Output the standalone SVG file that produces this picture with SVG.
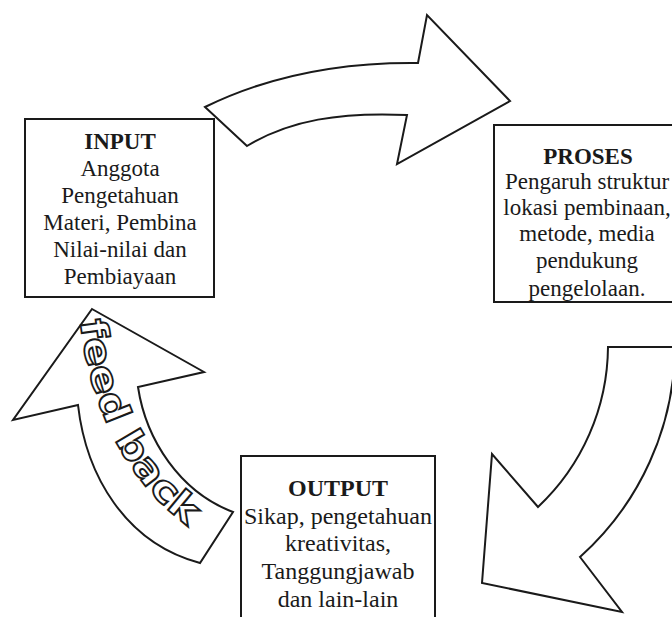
<svg xmlns="http://www.w3.org/2000/svg" xmlns:xlink="http://www.w3.org/1999/xlink" width="672" height="617" viewBox="0 0 672 617">
<style>
.box{fill:#fff;stroke:#1a1a1a;stroke-width:2}
.arrow{fill:#fff;stroke:#1a1a1a;stroke-width:2;stroke-linejoin:miter}
.t{font-family:"Liberation Serif","Times New Roman",serif;font-size:23px;fill:#1a1a1a;text-anchor:middle}
.h{font-weight:bold}
.fb{font-family:"DejaVu Sans","Liberation Sans",sans-serif;font-weight:bold;font-size:37px;fill:#fff;stroke:#1a1a1a;stroke-width:1.8}
</style>
<defs>
<path id="fbpath" d="M80,321 C90,410 130,490 200,534"/>
</defs>
<rect width="672" height="617" fill="#fff"/>
<g id="input">
<rect class="box" x="25" y="119" width="189" height="178"/>
<text class="t h" x="120" y="149">INPUT</text>
<text class="t" x="120" y="176">Anggota</text>
<text class="t" x="120" y="203">Pengetahuan</text>
<text class="t" x="120" y="230">Materi, Pembina</text>
<text class="t" x="120" y="257">Nilai-nilai dan</text>
<text class="t" x="120" y="284">Pembiayaan</text>
</g>
<g id="proses">
<rect class="box" x="494" y="125" width="200" height="177"/>
<text class="t h" x="588" y="164">PROSES</text>
<text class="t" x="587" y="189">Pengaruh struktur</text>
<text class="t" x="587" y="215">lokasi pembinaan,</text>
<text class="t" x="587" y="241">metode, media</text>
<text class="t" x="587" y="268">pendukung</text>
<text class="t" x="587" y="296">pengelolaan.</text>
</g>
<g id="output">
<rect class="box" x="241" y="456" width="194" height="200"/>
<text class="t h" x="338" y="496" style="font-size:24px">OUTPUT</text>
<text class="t" x="338" y="524" style="font-size:24px">Sikap, pengetahuan</text>
<text class="t" x="338" y="551" style="font-size:24px">kreativitas,</text>
<text class="t" x="338" y="579" style="font-size:24px">Tanggungjawab</text>
<text class="t" x="338" y="607" style="font-size:24px">dan lain-lain</text>
</g>
<g id="connectors">
<path id="arrow-input-proses" class="arrow" d="M205,107 C260,80 330,62 418,63 L427,15 L510,101 L397,164 L407,115 C340,112 290,120 247,146 Z"/>
<path id="arrow-proses-output" class="arrow" d="M608,347 L675,347 A285,285 0 0 1 580,557 L622,612 L482,583 L492,454 L538,507 A222,222 0 0 0 608,347 Z"/>
<g id="feedback">
<path class="arrow" d="M92,309 L204,372 L138,387 C146,440 180,492 233,512 L200,563 C125,543 86,475 78,405 L13,420 Z"/>
<text class="fb"><textPath xlink:href="#fbpath" textLength="238" lengthAdjust="spacingAndGlyphs">feed back</textPath></text>
</g>
</g>
</svg>
